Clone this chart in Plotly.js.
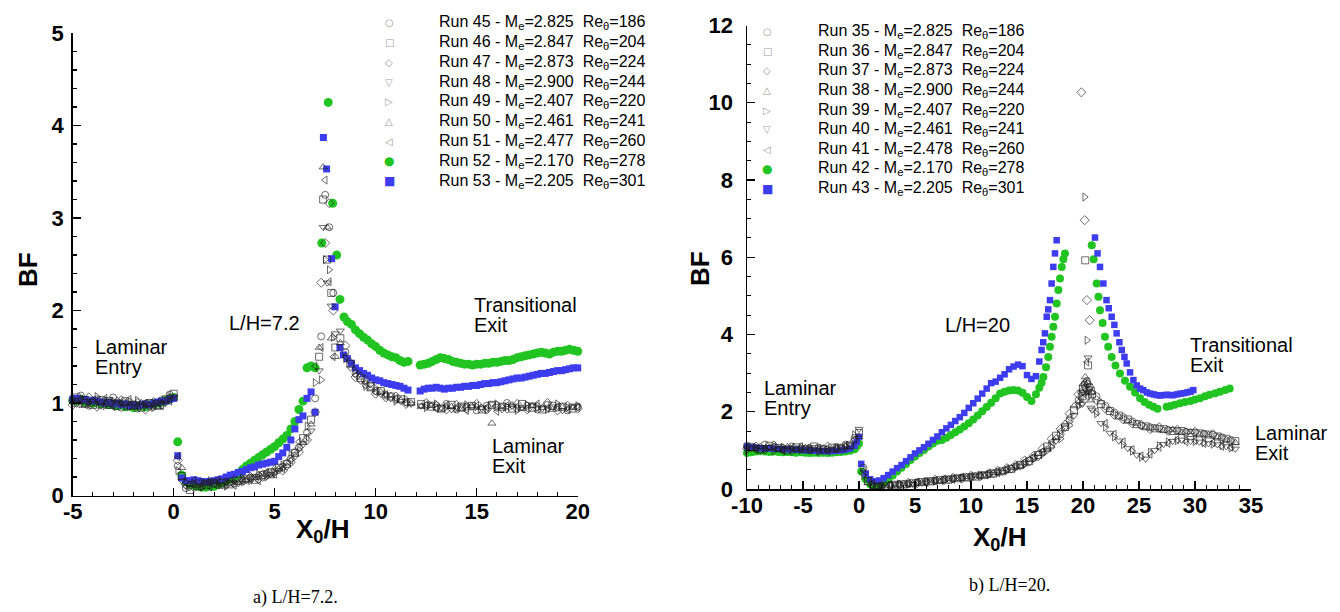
<!DOCTYPE html>
<html><head><meta charset="utf-8">
<script src="https://cdn.plot.ly/plotly-3.0.1.min.js"></script>
<style>html,body{margin:0;padding:0;background:#fff;}#chart{width:1340px;height:612px;}</style>
</head><body><div id="chart"></div>
<script>
// ================= DATA : panel a) L/H = 7.2 =================
const runsL  = ['Run 45','Run 46','Run 47','Run 48','Run 49','Run 50','Run 51','Run 52','Run 53'];
const machL  = ['2.825','2.847','2.873','2.900','2.407','2.461','2.477','2.170','2.205'];
const reL    = ['186','204','224','244','220','241','260','278','301'];

// x positions of the open-symbol runs (two interleaved sampling grids)
const xLA = [-5,-4.6,-4.2,-3.8,-3.4,-3,-2.6,-2.2,-1.8,-1.4,-1,-0.6,-0.2,
  0.2,0.6,1,1.4,1.8,2.2,2.6,3,3.4,3.8,4.2,4.6,5,5.4,5.8,6.2,6.6,7,
  7.3,7.5,7.7,7.9,
  8.5,9,9.5,10,10.5,11,11.5,12.5,13,13.5,14,14.5,15,15.5,16,16.5,17,17.5,18,18.5,19,19.5,20];
const xLB = [-4.8,-4.4,-4,-3.6,-3.2,-2.8,-2.4,-2,-1.6,-1.2,-0.8,-0.4,0,
  0.4,0.8,1.2,1.6,2,2.4,2.8,3.2,3.6,4,4.4,4.8,5.2,5.6,6,6.4,6.8,7.2,
  7.4,7.6,7.8,8.0,
  8.25,8.75,9.25,9.75,10.25,10.75,11.25,11.75,12.25,12.75,13.25,13.75,14.25,14.75,15.25,15.75,16.25,16.75,17.25,17.75,18.25,18.75,19.25,19.75];

const bf45 = [1.02,1.08,0.97,1.04,0.99,1.06,0.95,1.01,0.94,0.99,0.96,1.03,1.09,
  0.32,0.08,0.12,0.1,0.14,0.11,0.15,0.13,0.17,0.19,0.21,0.24,0.26,0.31,0.4,0.52,0.68,1.05,
  1.72,3.25,2.9,2.19,
  1.55,1.32,1.2,1.13,1.08,1.04,1.01,0.97,0.95,0.99,0.93,0.96,0.92,0.97,0.95,1.0,0.94,0.97,0.93,0.98,0.95,0.92,0.96];
const bf47 = [0.98,1.03,1.06,0.96,1.02,0.98,1.03,0.97,1.0,0.93,1.01,0.98,1.05,
  0.38,0.12,0.09,0.14,0.12,0.16,0.12,0.17,0.15,0.2,0.18,0.22,0.28,0.27,0.36,0.47,0.6,0.9,
  2.3,2.73,3.16,2.0,
  1.62,1.28,1.25,1.1,1.06,1.07,0.99,1.0,0.97,0.93,0.98,0.94,0.99,0.93,0.97,0.94,0.99,0.93,0.96,1.0,0.92,0.97,0.94];
const bf49 = [1.05,0.99,1.01,1.07,0.97,1.02,1.0,0.96,1.03,0.97,0.95,1.0,1.07,
  0.27,0.15,0.13,0.09,0.16,0.13,0.1,0.15,0.19,0.16,0.23,0.2,0.24,0.33,0.44,0.5,0.75,1.22,
  1.25,2.55,2.44,1.71,
  1.48,1.35,1.18,1.16,1.1,1.02,1.04,0.95,0.99,0.96,0.94,0.98,0.96,0.93,0.99,0.96,0.92,0.98,0.95,0.93,0.99,0.95,0.97];
const bf51 = [1.0,1.04,1.0,0.98,1.05,0.96,1.0,1.04,0.97,1.0,0.99,0.97,1.02,
  0.42,0.1,0.16,0.12,0.09,0.15,0.14,0.11,0.16,0.18,0.16,0.25,0.23,0.29,0.38,0.58,0.63,1.4,
  1.6,3.41,2.31,1.5,
  1.5,1.3,1.22,1.12,1.09,1.05,1.0,0.98,0.94,0.97,0.95,0.92,0.97,0.95,0.91,0.97,0.96,0.94,0.99,0.94,0.96,0.93,0.95];
const bf46 = [1.06,1.0,0.98,1.03,1.0,0.97,1.02,0.98,0.95,1.0,0.97,1.04,1.1,
  0.21,0.06,0.13,0.11,0.13,0.14,0.12,0.16,0.18,0.17,0.22,0.25,0.3,0.34,0.46,0.62,0.82,1.5,
  3.2,2.55,2.19,1.6,
  1.7,1.42,1.27,1.18,1.13,1.07,1.04,1.01,0.99,0.96,0.94,0.98,0.95,0.97,0.93,0.98,0.96,0.94,0.99,0.95,0.93,0.97,0.96,0.94];
const bf48 = [0.99,1.05,1.02,0.97,1.04,1.01,0.96,1.0,0.98,0.95,1.01,1.0,1.07,
  0.16,0.09,0.1,0.15,0.12,0.11,0.14,0.13,0.16,0.21,0.19,0.23,0.27,0.31,0.42,0.55,0.7,1.35,
  2.9,2.3,2.05,1.75,
  1.78,1.38,1.24,1.2,1.1,1.05,1.02,0.99,0.97,0.99,0.95,0.93,0.98,0.96,0.94,0.99,0.93,0.97,0.95,0.98,0.94,0.96,0.92,0.97];
const bf50 = [1.02,0.97,1.03,1.0,0.96,1.03,0.99,0.95,1.0,0.98,0.96,1.02,1.05,
  0.3,0.12,0.08,0.13,0.15,0.1,0.16,0.14,0.17,0.19,0.24,0.21,0.29,0.36,0.48,0.57,0.77,1.6,
  3.55,2.9,1.7,1.5,
  1.65,1.45,1.3,1.15,1.12,1.08,1.03,1.0,0.96,0.97,0.93,0.96,0.94,0.97,0.95,0.78,0.96,0.98,0.94,0.97,0.95,0.93,0.96,0.95];

// Runs 52 (green) and 53 (blue)
const xL52 = [-5,-4.8,-4.6,-4.4,-4.2,-4,-3.8,-3.6,-3.4,-3.2,-3,-2.8,-2.6,-2.4,-2.2,-2,-1.8,-1.6,-1.4,-1.2,-1,-0.8,-0.6,-0.4,-0.2,0,
  0.2,0.4,0.6,0.8,1,1.2,1.4,1.6,1.8,2,2.2,2.4,2.6,2.8,3,3.2,3.4,3.6,3.8,4,4.2,4.4,4.6,4.8,5,5.2,5.4,5.6,5.8,6,6.2,6.4,6.6,6.8,7,
  7.33,7.65,7.87,8.07,8.23,8.43,
  8.6,8.8,9,9.2,9.4,9.6,9.8,10,10.2,10.4,10.6,10.8,11,11.2,11.4,11.6,
  12.2,12.4,12.6,12.8,13,13.2,13.4,13.6,13.8,14,14.2,14.4,14.6,14.8,15,15.2,15.4,15.6,15.8,16,16.2,16.4,16.6,16.8,17,17.2,17.4,17.6,17.8,18,18.2,18.4,18.6,18.8,19,19.2,19.4,19.6,19.8,20];
const bf52 = [1.03,1.02,1.04,1.01,1.02,1.0,1.01,0.99,1.0,0.98,0.99,0.97,0.98,0.96,0.97,0.95,0.96,0.97,0.96,0.98,0.99,1.0,1.01,1.03,1.04,1.06,
  0.58,0.22,0.15,0.12,0.11,0.1,0.09,0.09,0.1,0.1,0.12,0.14,0.16,0.18,0.2,0.23,0.28,0.32,0.35,0.38,0.41,0.44,0.47,0.5,0.53,0.57,0.61,0.65,0.72,0.8,0.93,1.02,1.38,1.4,1.38,
  2.73,4.25,3.16,2.6,2.12,1.93,
  1.88,1.85,1.79,1.75,1.71,1.68,1.64,1.61,1.57,1.54,1.52,1.5,1.49,1.46,1.44,1.45,
  1.41,1.42,1.43,1.45,1.47,1.49,1.48,1.47,1.45,1.44,1.43,1.42,1.42,1.41,1.42,1.42,1.43,1.43,1.44,1.44,1.45,1.46,1.46,1.47,1.49,1.5,1.51,1.52,1.53,1.54,1.55,1.54,1.53,1.55,1.56,1.56,1.57,1.58,1.57,1.56];
const xL53 = [-5,-4.8,-4.6,-4.4,-4.2,-4,-3.8,-3.6,-3.4,-3.2,-3,-2.8,-2.6,-2.4,-2.2,-2,-1.8,-1.6,-1.4,-1.2,-1,-0.8,-0.6,-0.4,-0.2,0,
  0.2,0.4,0.6,0.8,1,1.2,1.4,1.6,1.8,2,2.2,2.4,2.6,2.8,3,3.2,3.4,3.6,3.8,4,4.2,4.4,4.6,4.8,5,5.2,5.4,5.6,5.8,6,6.2,6.4,6.6,6.8,7,
  7.41,7.57,7.82,7.99,8.23,8.4,
  8.6,8.8,9,9.2,9.4,9.6,9.8,10,10.2,10.4,10.6,10.8,11,11.2,11.4,11.6,
  12.2,12.4,12.6,12.8,13,13.2,13.4,13.6,13.8,14,14.2,14.4,14.6,14.8,15,15.2,15.4,15.6,15.8,16,16.2,16.4,16.6,16.8,17,17.2,17.4,17.6,17.8,18,18.2,18.4,18.6,18.8,19,19.2,19.4,19.6,19.8,20];
const bf53 = [1.04,1.05,1.03,1.04,1.02,1.03,1.02,1.01,1.0,1.01,0.99,1.0,0.98,0.99,0.97,0.98,0.97,0.98,0.99,0.98,1.0,1.01,1.02,1.02,1.04,1.05,
  0.43,0.19,0.16,0.16,0.17,0.16,0.15,0.15,0.15,0.16,0.17,0.18,0.2,0.22,0.23,0.25,0.26,0.28,0.3,0.31,0.33,0.34,0.35,0.36,0.37,0.42,0.46,0.52,0.6,0.72,0.82,0.86,1.05,1.12,0.9,
  3.87,3.53,2.56,2.04,1.6,1.52,
  1.48,1.43,1.38,1.35,1.32,1.3,1.27,1.25,1.24,1.22,1.21,1.2,1.19,1.18,1.16,1.14,
  1.13,1.15,1.16,1.16,1.17,1.16,1.15,1.16,1.16,1.17,1.17,1.18,1.18,1.19,1.19,1.2,1.21,1.21,1.22,1.22,1.23,1.24,1.25,1.26,1.27,1.27,1.28,1.29,1.3,1.31,1.32,1.32,1.33,1.34,1.35,1.35,1.36,1.37,1.38,1.38];

// ================= DATA : panel b) L/H = 20 =================
const runsR  = ['Run 35','Run 36','Run 37','Run 38','Run 39','Run 40','Run 41','Run 42','Run 43'];
const machR  = ['2.825','2.847','2.873','2.900','2.407','2.461','2.478','2.170','2.205'];
const reR    = ['186','204','224','244','220','241','260','278','301'];

const xRA = [-10,-9.2,-8.4,-7.6,-6.8,-6,-5.2,-4.4,-3.6,-2.8,-2,-1.2,-0.4,
  0.4,1.2,2,2.8,3.6,4.4,5.2,6,6.8,7.6,8.4,9.2,10,10.8,11.6,12.4,13.2,14,14.8,15.6,16.4,17.2,18,18.8,19.6,
  19.85,20.15,20.35,20.6,
  20.4,21.2,22,22.8,23.6,24.4,25.2,26,26.8,27.6,28.4,29.2,30,30.8,31.6,32.4,33.2];
const xRB = [-9.6,-8.8,-8,-7.2,-6.4,-5.6,-4.8,-4,-3.2,-2.4,-1.6,-0.8,0,
  0.8,1.6,2.4,3.2,4,4.8,5.6,6.4,7.2,8,8.8,9.6,10.4,11.2,12,12.8,13.6,14.4,15.2,16,16.8,17.6,18.4,19.2,20,
  19.95,20.2,20.45,20.7,
  20.8,21.6,22.4,23.2,24,24.8,25.6,26.4,27.2,28,28.8,29.6,30.4,31.2,32,32.8,33.6];

const bf35 = [1.12,1.05,1.15,1.08,1.02,1.1,1.04,1.0,1.07,1.03,1.09,1.15,1.32,
  0.55,0.08,0.06,0.1,0.12,0.14,0.17,0.2,0.21,0.25,0.27,0.3,0.31,0.35,0.39,0.44,0.5,0.58,0.67,0.8,0.95,1.15,1.42,1.78,2.3,
  2.5,2.7,2.8,2.65,
  2.72,2.4,2.15,1.98,1.86,1.75,1.64,1.6,1.56,1.53,1.5,1.48,1.46,1.43,1.4,1.34,1.27];
const bf37 = [1.05,1.1,1.02,1.13,1.06,0.99,1.08,1.05,1.0,1.1,1.04,1.08,1.25,
  0.42,0.12,0.08,0.08,0.11,0.16,0.15,0.18,0.24,0.23,0.29,0.27,0.34,0.33,0.41,0.47,0.54,0.62,0.74,0.86,1.05,1.3,1.55,1.95,2.45,
  10.27,6.96,4.89,4.37,
  2.55,2.3,2.08,1.92,1.8,1.7,1.66,1.55,1.6,1.5,1.53,1.45,1.48,1.4,1.42,1.3,1.22];
const bf39 = [1.0,1.06,1.03,0.98,1.08,1.04,1.01,1.06,0.97,1.02,1.05,1.1,1.4,
  0.35,0.1,0.07,0.09,0.13,0.12,0.16,0.19,0.2,0.22,0.26,0.28,0.3,0.36,0.37,0.43,0.48,0.55,0.64,0.78,0.9,1.08,1.3,1.65,2.15,
  2.2,7.56,3.85,2.6,
  2.5,1.95,1.6,1.35,1.15,0.98,0.82,0.95,1.12,1.22,1.25,1.27,1.23,1.2,1.16,1.12,1.06];
const bf41 = [1.08,1.01,1.06,1.1,0.99,1.05,1.09,1.02,1.05,0.98,1.06,1.12,1.28,
  0.48,0.14,0.05,0.11,0.1,0.14,0.18,0.17,0.22,0.26,0.25,0.31,0.33,0.34,0.4,0.42,0.52,0.6,0.7,0.84,0.98,1.22,1.5,1.85,2.25,
  2.35,2.75,3.29,2.5,
  2.4,2.0,1.7,1.42,1.22,1.02,0.86,0.9,1.08,1.18,1.28,1.22,1.26,1.18,1.2,1.1,1.08];
const bf36 = [1.09,1.03,1.12,1.06,1.0,1.08,1.03,1.1,1.02,1.07,1.05,1.13,1.45,
  0.2,0.07,0.08,0.11,0.12,0.15,0.18,0.2,0.23,0.24,0.28,0.3,0.32,0.36,0.4,0.46,0.52,0.62,0.72,0.88,1.1,1.38,1.6,2.05,2.6,
  2.4,5.92,3.2,2.55,
  2.45,2.2,2.02,1.9,1.8,1.68,1.62,1.57,1.55,1.5,1.5,1.45,1.44,1.41,1.36,1.3,1.24];
const bf38 = [1.04,1.1,1.06,1.02,1.09,1.04,1.07,1.01,1.06,1.0,1.08,1.1,1.35,
  0.16,0.06,0.09,0.1,0.14,0.14,0.17,0.22,0.21,0.27,0.26,0.32,0.35,0.34,0.42,0.45,0.55,0.6,0.76,0.92,1.02,1.32,1.7,2.15,2.72,
  2.5,2.9,2.75,2.3,
  2.5,2.25,2.05,1.88,1.76,1.7,1.6,1.58,1.52,1.54,1.47,1.48,1.42,1.4,1.35,1.28,1.2];
const bf40 = [1.06,1.0,1.08,1.04,1.07,1.01,1.05,1.08,1.0,1.04,1.07,1.15,1.55,
  0.24,0.09,0.06,0.12,0.11,0.13,0.16,0.19,0.22,0.24,0.3,0.29,0.33,0.38,0.38,0.44,0.5,0.58,0.68,0.82,1.0,1.25,1.58,1.9,2.5,
  2.2,2.6,3.4,2.1,
  2.05,1.7,1.45,1.25,1.05,0.88,0.78,1.0,1.16,1.24,1.27,1.24,1.22,1.18,1.15,1.1,1.04];

// Runs 42 (green) and 43 (blue)
const xR42 = [-10,-9.6,-9.2,-8.8,-8.4,-8,-7.6,-7.2,-6.8,-6.4,-6,-5.6,-5.2,-4.8,-4.4,-4,-3.6,-3.2,-2.8,-2.4,-2,-1.6,-1.2,-0.8,-0.4,-0.2,0,
  0.2,0.6,1,1.4,1.8,2.2,2.6,3,3.4,3.8,4.2,4.6,5,5.4,5.8,6.2,6.6,7,7.4,7.8,8.2,8.6,9,9.4,9.8,10.2,10.6,11,11.4,11.8,12.2,12.6,13,13.4,13.8,14.2,14.6,15,15.4,15.8,
  16.1,16.3,16.46,16.7,16.9,17.05,17.2,17.35,17.5,17.65,17.8,17.95,18.1,18.25,18.39,
  20.78,20.95,21.22,21.38,21.52,21.75,21.96,22.25,22.56,22.9,23.3,23.75,24.2,24.65,25.1,25.5,25.9,26.28,26.65,27.47,27.8,28.2,28.66,29.1,29.6,30,30.45,30.9,31.3,31.8,32.23,32.7,33.1];
const bf42 = [0.93,0.95,0.97,0.98,0.97,0.96,0.97,0.96,0.95,0.96,0.95,0.94,0.95,0.94,0.93,0.94,0.93,0.94,0.93,0.94,0.95,0.96,0.97,0.99,1.03,1.1,1.18,
  0.45,0.25,0.12,0.08,0.1,0.16,0.25,0.35,0.45,0.55,0.65,0.75,0.84,0.93,1.01,1.1,1.18,1.25,1.27,1.33,1.4,1.47,1.54,1.62,1.7,1.8,1.9,2.01,2.12,2.23,2.35,2.47,2.52,2.55,2.56,2.55,2.49,2.38,2.28,2.45,
  2.62,2.75,2.9,3.15,3.42,3.68,3.94,4.2,4.46,4.8,5.15,5.45,5.75,5.95,6.1,
  6.31,5.95,5.32,4.98,4.63,4.3,3.94,3.68,3.42,3.2,2.99,2.8,2.65,2.5,2.35,2.25,2.18,2.13,2.08,2.13,2.15,2.18,2.22,2.25,2.28,2.32,2.35,2.4,2.44,2.48,2.52,2.56,2.6];
const xR43 = [-10,-9.6,-9.2,-8.8,-8.4,-8,-7.6,-7.2,-6.8,-6.4,-6,-5.6,-5.2,-4.8,-4.4,-4,-3.6,-3.2,-2.8,-2.4,-2,-1.6,-1.2,-0.8,-0.4,-0.2,0,
  0.2,0.6,1,1.4,1.8,2.2,2.6,3,3.4,3.8,4.2,4.6,5,5.4,5.8,6.2,6.6,7,7.4,7.8,8.2,8.6,9,9.4,9.8,10.2,10.6,11,11.4,11.8,12.2,12.6,13,13.4,13.8,14.2,14.6,15,15.4,15.8,
  16.1,16.3,16.45,16.6,16.76,16.9,17.05,17.2,17.35,17.5,17.65,
  21.07,21.3,21.52,21.82,22.1,22.3,22.56,22.8,23,23.25,23.46,23.7,23.9,24.2,24.5,24.8,25.1,25.38,25.7,26,26.3,26.58,26.9,27.2,27.5,27.8,28.06,28.4,28.7,29,29.3,29.6,29.85];
const bf43 = [1.1,1.08,1.07,1.06,1.05,1.05,1.04,1.04,1.03,1.03,1.02,1.02,1.01,1.0,1.0,0.99,0.99,0.98,0.98,0.98,0.99,1.0,1.02,1.05,1.12,1.22,1.35,
  0.65,0.4,0.25,0.2,0.22,0.28,0.36,0.45,0.54,0.62,0.72,0.82,0.92,1.0,1.08,1.17,1.27,1.36,1.47,1.57,1.66,1.76,1.86,1.97,2.1,2.22,2.34,2.47,2.6,2.74,2.78,2.88,2.97,3.1,3.17,3.22,3.18,2.95,2.85,2.92,
  3.3,3.6,3.8,4.03,4.46,4.65,4.89,5.32,5.75,6.1,6.44,
  6.51,6.1,5.75,5.32,4.89,4.68,4.46,4.25,4.03,3.8,3.6,3.42,3.25,3.02,2.82,2.68,2.6,2.56,2.5,2.47,2.45,2.43,2.42,2.43,2.44,2.43,2.43,2.45,2.47,2.48,2.5,2.52,2.56];

// ================= STYLE =================
const W = 1340, H = 612;
const GREEN = '#21c421', BLUE = '#3d3def', OPEN = 'rgba(30,30,30,0.72)';
const symL = ['circle-open','square-open','diamond-open','triangle-down-open','triangle-right-open','triangle-up-open','triangle-left-open'];
const symR = ['circle-open','square-open','diamond-open','triangle-up-open','triangle-right-open','triangle-down-open','triangle-left-open'];
const glyphL = ['\u25CB','\u25A1','\u25C7','\u25BD','\u25B7','\u25B3','\u25C1','\u25CF','\u25A0'];
const glyphR = ['\u25CB','\u25A1','\u25C7','\u25B3','\u25B7','\u25BD','\u25C1','\u25CF','\u25A0'];

function openTrace(name, x, y, sym, xa, ya) {
  return {type:'scatter', mode:'markers', name:name, x:x, y:y, xaxis:xa, yaxis:ya,
    cliponaxis:false, showlegend:false, hoverinfo:'x+y+name',
    marker:{symbol:sym, size:7, color:OPEN, line:{width:0.9}}};
}
function fillTrace(name, x, y, sym, color, size, xa, ya) {
  return {type:'scatter', mode:'markers', name:name, x:x, y:y, xaxis:xa, yaxis:ya,
    cliponaxis:false, showlegend:false, hoverinfo:'x+y+name',
    marker:{symbol:sym, size:size, color:color, line:{width:0}}};
}

const traces = [
  fillTrace(runsL[7], xL52, bf52, 'circle', GREEN, 9, 'x', 'y'),
  fillTrace(runsL[8], xL53, bf53, 'square', BLUE, 7, 'x', 'y'),
  openTrace(runsL[0], xLA, bf45, symL[0], 'x', 'y'),
  openTrace(runsL[1], xLB, bf46, symL[1], 'x', 'y'),
  openTrace(runsL[2], xLA, bf47, symL[2], 'x', 'y'),
  openTrace(runsL[3], xLB, bf48, symL[3], 'x', 'y'),
  openTrace(runsL[4], xLA, bf49, symL[4], 'x', 'y'),
  openTrace(runsL[5], xLB, bf50, symL[5], 'x', 'y'),
  openTrace(runsL[6], xLA, bf51, symL[6], 'x', 'y'),
  fillTrace(runsR[7], xR42, bf42, 'circle', GREEN, 8, 'x2', 'y2'),
  fillTrace(runsR[8], xR43, bf43, 'square', BLUE, 6.5, 'x2', 'y2'),
  openTrace(runsR[0], xRA, bf35, symR[0], 'x2', 'y2'),
  openTrace(runsR[1], xRB, bf36, symR[1], 'x2', 'y2'),
  openTrace(runsR[2], xRA, bf37, symR[2], 'x2', 'y2'),
  openTrace(runsR[3], xRB, bf38, symR[3], 'x2', 'y2'),
  openTrace(runsR[4], xRA, bf39, symR[4], 'x2', 'y2'),
  openTrace(runsR[5], xRB, bf40, symR[5], 'x2', 'y2'),
  openTrace(runsR[6], xRA, bf41, symR[6], 'x2', 'y2')
];

const SANS = 'Liberation Sans, Arial, Helvetica, sans-serif';
const tickFont = {family:SANS, size:22, color:'#000', weight:'bold'};
const titleFont = {family:SANS, size:26, color:'#000', weight:'bold'};

function xAxis(domain, range, tick0, alias) {
  return {domain:domain, range:range, tickmode:'linear', tick0:tick0, dtick:5,
    ticks:'inside', ticklen:8, tickwidth:1.4, tickcolor:'#000',
    minor:{dtick:1, tick0:tick0, ticks:'inside', ticklen:4, tickwidth:1.1, tickcolor:'#000', showgrid:false},
    showline:true, linecolor:'#000', linewidth:1.5, showgrid:false, zeroline:false,
    tickfont:tickFont, automargin:false, fixedrange:true, ticklabelstandoff:-4,
    labelalias:alias};
}
function yAxis(domain, range, dtick, mdtick, anchor, lstand) {
  return {domain:domain, range:range, anchor:anchor, tickmode:'linear', tick0:0, dtick:dtick,
    ticks:'inside', ticklen:8, tickwidth:1.4, tickcolor:'#000',
    minor:{dtick:mdtick, tick0:0, ticks:'inside', ticklen:4, tickwidth:1.1, tickcolor:'#000', showgrid:false},
    showline:true, linecolor:'#000', linewidth:1.5, showgrid:false, zeroline:false,
    tickfont:tickFont, automargin:false, fixedrange:true, ticklabelstandoff:lstand};
}

const annotations = [];
function note(text, xp, yp, opts) {
  annotations.push(Object.assign({text:text, xref:'paper', yref:'paper', x:xp/W, y:1-yp/H,
    xanchor:'left', yanchor:'middle', showarrow:false,
    font:{family:SANS, size:20, color:'#000'}}, opts||{}));
}
// axis titles
note('BF', 28, 270, {xanchor:'center', textangle:-90, font:titleFont});
note('BF', 700, 268, {xanchor:'center', textangle:-90, font:titleFont});
note('X<sub>0</sub>/H', 322, 530, {xanchor:'center', font:titleFont});
note('X<sub>0</sub>/H', 999, 538, {xanchor:'center', font:titleFont});
// panel labels
note('Laminar', 93, 347); note('Entry', 93, 367);
note('L/H=7.2', 227, 323);
note('Transitional', 472, 305); note('Exit', 472, 325);
note('Laminar', 490, 446); note('Exit', 490, 466);
note('Laminar', 762, 388); note('Entry', 762, 408);
note('L/H=20', 943, 325);
note('Transitional', 1188, 345); note('Exit', 1188, 365);
note('Laminar', 1253, 433); note('Exit', 1253, 453);
// captions
const capFont = {family:'Liberation Serif, Times New Roman, serif', size:18, color:'#000'};
note('a) L/H=7.2.', 295, 597, {xanchor:'center', font:capFont});
note('b) L/H=20.', 1010, 585, {xanchor:'center', font:capFont});

// legends (drawn as text rows)
function legendRows(runs, mach, re, glyph, symX, textX, y0, dy) {
  for (let i = 0; i < runs.length; i++) {
    const yy = y0 + i*dy;
    const col = i === 7 ? GREEN : (i === 8 ? BLUE : '#9c9c9c');
    const gs = i >= 7 ? 12 : 10;
    note(glyph[i], symX, yy, {xanchor:'center', font:{family:'DejaVu Sans', size:gs, color:col}});
    note(runs[i] + ' - M<sub>e</sub>=' + mach[i] + '\u00a0\u00a0Re<sub>\u03b8</sub>=' + re[i], textX, yy,
         {font:{family:SANS, size:16, color:'#000'}});
  }
}
legendRows(runsL, machL, reL, glyphL, 389, 437, 22.7, 19.8);
legendRows(runsR, machR, reR, glyphR, 767, 816, 31.7, 19.6);

const layout = {
  width:W, height:H, margin:{l:0, r:0, t:0, b:0},
  paper_bgcolor:'#fff', plot_bgcolor:'#fff', showlegend:false,
  xaxis: Object.assign(xAxis([72.7/W, 577.7/W], [-5, 20], -5, {'\u22125':'-5'}), {anchor:'y'}),
  yaxis: yAxis([(H-495.5)/H, (H-33)/H], [0, 5], 1, 0.2, 'x', 3),
  xaxis2: Object.assign(xAxis([747/W, 1251/W], [-10, 35], -10, {'\u221210':'-10','\u22125':'-5'}), {anchor:'y2'}),
  yaxis2: yAxis([(H-489)/H, (H-25.5)/H], [0, 12], 2, 0.5, 'x2', 8),
  annotations: annotations
};

Plotly.newPlot('chart', traces, layout, {staticPlot:true, displayModeBar:false});
</script></body></html>
